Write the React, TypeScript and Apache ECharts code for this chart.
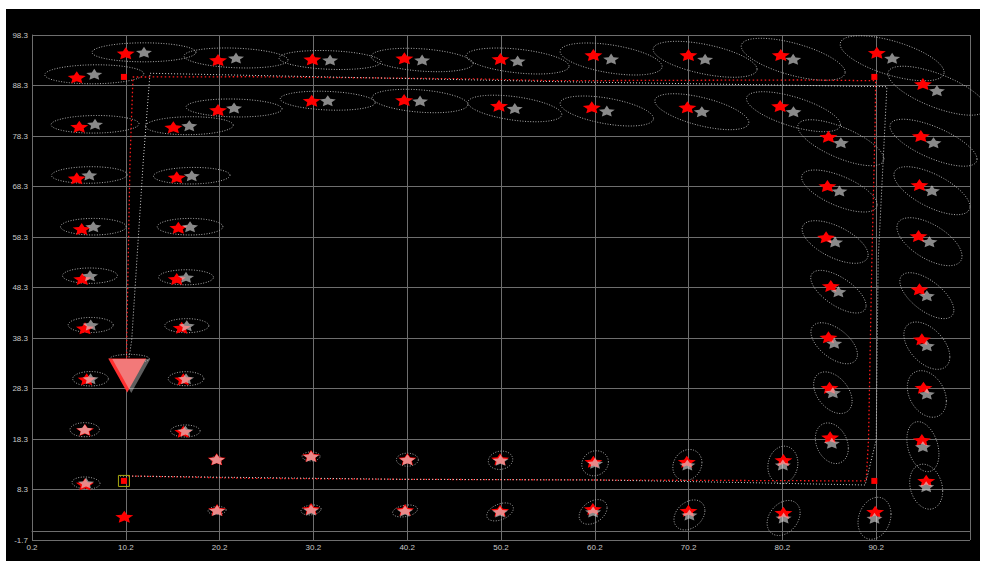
import React, { useEffect, useRef } from 'react';
import * as echarts from 'echarts';

// True landmark positions
const trueX = [10.19, 20.03, 30.09, 39.9, 50.14, 60.05, 70.18, 80.03, 90.27, 95.18, 94.96, 94.81, 94.71, 94.81, 95.07, 95.24, 95.07, 95.53, 90.09, 80.31, 70.18, 59.99, 50.1, 39.97, 29.95, 19.93, 10.04, 5.85, 5.85, 6.03, 5.85, 5.56, 5.5, 4.97, 5.24, 4.97, 20.03, 30.02, 39.87, 49.99, 59.88, 70.07, 79.96, 85.11, 85.0, 84.86, 85.36, 85.11, 85.22, 85.29, 80.31, 70.01, 60.05, 50.1, 40.22, 29.95, 19.89, 16.33, 16.33, 16.16, 15.63, 15.8, 15.63, 15.27];
const trueY = [94.68, 93.35, 93.49, 93.69, 93.55, 94.34, 94.34, 94.34, 94.8, 88.6, 78.3, 68.6, 58.5, 47.95, 38.05, 28.46, 18.11, 10.05, 3.91, 3.71, 4.11, 4.45, 4.11, 4.25, 4.45, 4.25, 2.92, 9.34, 20.09, 30.13, 40.23, 49.99, 59.89, 69.93, 80.14, 89.92, 83.45, 85.29, 85.43, 84.3, 83.98, 83.98, 84.24, 78.16, 68.4, 58.24, 48.6, 38.44, 28.46, 18.64, 14.15, 13.81, 13.81, 14.29, 14.29, 14.94, 14.29, 19.75, 30.13, 40.34, 49.99, 60.14, 70.12, 80.02];

// Estimated landmark positions (null = not yet observed)
const estX = [12.14, 21.95, 31.98, 41.79, 51.97, 61.94, 71.96, 81.35, 91.9, 96.67, 96.31, 96.14, 95.88, 95.6, 95.6, 95.6, 95.18, 95.53, 90.02, 80.33, 70.29, 60.02, 50.1, 39.97, 29.95, 19.93, null, 5.96, 5.82, 6.44, 6.46, 6.38, 6.74, 6.31, 6.92, 6.84, 21.74, 31.73, 41.57, 51.67, 61.48, 71.61, 81.38, 86.43, 86.28, 85.82, 86.17, 85.72, 85.58, 85.47, 80.25, 70.07, 60.23, 50.15, 40.22, 29.95, 19.89, 16.55, 16.62, 16.7, 16.62, 17.05, 17.23, 16.97];
const estY = [94.87, 93.75, 93.35, 93.35, 93.15, 93.55, 93.49, 93.49, 93.69, 87.27, 76.97, 67.47, 57.37, 46.68, 36.78, 27.22, 16.78, 8.86, 2.6, 2.66, 3.26, 3.86, 3.86, 4.05, 4.25, 4.15, null, 9.59, 20.14, 30.23, 40.88, 50.64, 60.34, 70.58, 80.62, 90.52, 83.85, 85.29, 85.23, 83.75, 83.25, 83.11, 83.11, 76.97, 67.41, 57.31, 47.47, 37.26, 27.47, 17.46, 13.16, 13.16, 13.49, 14.09, 14.2, 14.85, 14.25, 19.89, 30.24, 40.74, 50.32, 60.34, 70.44, 80.34];

// Uncertainty (std dev x, std dev y, correlation)
const sdX = [5.54, 5.54, 5.44, 5.44, 5.49, 5.44, 5.54, 5.54, 5.54, 5.22, 4.64, 4.05, 3.47, 2.88, 2.45, 2.08, 1.71, 1.76, 1.76, 1.76, 1.65, 1.49, 1.42, 1.33, 1.07, 0.96, null, 1.49, 1.57, 1.9, 2.4, 2.93, 3.5, 4.03, 4.69, 5.28, 5.12, 5.06, 5.1, 5.01, 4.98, 5.01, 5.01, 4.59, 4.03, 3.52, 2.95, 2.48, 2.05, 1.76, 1.6, 1.55, 1.42, 1.3, 1.17, 0.96, 0.64, 1.57, 1.9, 2.35, 2.93, 3.5, 4.08, 4.69];
const sdY = [1.88, 1.98, 1.88, 2.32, 2.57, 3.17, 3.56, 4.16, 4.46, 4.85, 4.65, 4.75, 4.75, 4.55, 4.69, 4.61, 4.95, 4.46, 4.16, 3.47, 2.97, 2.44, 1.78, 1.19, 0.99, 0.79, null, 1.19, 1.39, 1.43, 1.49, 1.52, 1.64, 1.64, 1.74, 1.88, 1.78, 1.88, 2.32, 2.63, 2.97, 3.56, 3.96, 4.55, 4.16, 4.22, 4.22, 4.06, 4.12, 4.02, 3.72, 3.07, 2.48, 1.82, 1.29, 0.89, 0.59, 1.19, 1.39, 1.39, 1.49, 1.64, 1.64, 1.78];
const rho = [0, -0.2, -0.2, -0.3, -0.4, -0.47, -0.55, -0.62, -0.62, -0.69, -0.7, -0.66, -0.6, -0.63, -0.47, -0.3, -0.3, -0.2, 0.2, 0.3, 0.3, 0.35, 0.4, 0.3, 0.2, 0.1, null, -0.1, 0, 0, 0, 0, 0, 0.05, 0.05, 0.05, -0.1, -0.2, -0.3, -0.45, -0.5, -0.6, -0.65, -0.7, -0.65, -0.6, -0.65, -0.55, -0.4, -0.25, 0.1, 0.15, 0.1, 0.1, 0, 0, 0, 0, 0, 0, 0, 0, 0.05, 0.05];

// True trajectory
const truePathX = [10.44, 23.45, 39.44, 82.09, 89.13, 89.38, 89.74, 90.09, 90.14, 82.09, 55.43, 47.97, 23.45, 10.97, 10.65, 10.3, 10.3];
const truePathY = [10.98, 10.52, 10.32, 10.04, 9.99, 18.11, 53.75, 81.47, 89.25, 89.39, 89.25, 89.59, 90.04, 89.98, 73.55, 37.91, 34.34];

// Estimated trajectory
const estPathX = [9.58, 39.44, 60.77, 76.76, 89.02, 90.2, 90.41, 91.16, 91.34, 56.5, 12.78, 12.07, 10.83, 10.54];
const estPathY = [10.98, 10.32, 10.18, 9.65, 9.19, 18.11, 53.75, 81.47, 88.06, 89.05, 90.72, 73.55, 37.91, 34.34];

// Waypoints
const wpX = [10, 90, 90, 10];
const wpY = [90, 90, 10, 10];
const startPoint = [10, 10];

// Robot pose (true / estimated) and estimated pose uncertainty
const robotTrue = [10.35, 30.88];
const robotEst = [10.78, 30.8];
const robotEll = [10.6, 34.2, 2.1, 0.85, 0];

const STAR = 'path://M0,-10L2.9,-4L9.511,-3.09L4.7,1.5L5.878,8.09L0,4.9L-5.878,8.09L-4.7,1.5L-9.511,-3.09L-2.9,-4Z';

export default function App() {
  const ref = useRef<HTMLDivElement>(null);
  useEffect(() => {
    document.body.style.margin = '0';
    const chart = echarts.init(ref.current as HTMLDivElement, null, { renderer: 'svg' });

    const ellData: number[][] = [];
    for (let i = 0; i < estX.length; i++) {
      if (estX[i] == null || sdX[i] == null) continue;
      ellData.push([estX[i] as number, estY[i] as number, sdX[i] as number, sdY[i] as number, rho[i] as number]);
    }
    ellData.push(robotEll);

    const trueData = trueX.map((x, i) => [x, trueY[i]]);
    const estData: number[][] = [];
    estX.forEach((x, i) => { if (x != null) estData.push([x as number, estY[i] as number]); });

    const axisLabel = { color: '#c8c8c8', fontSize: 8, fontFamily: 'Liberation Sans', formatter: (v: number) => v.toFixed(1) };
    const gridLine = { show: true, lineStyle: { color: '#6e6e6e', width: 1 } };

    const option: any = {
      animation: false,
      backgroundColor: '#000',
      grid: { left: 26, top: 26, right: 10, bottom: 21 },
      xAxis: {
        type: 'value', min: 0.2, max: 100.2, interval: 10,
        axisLine: { show: true, lineStyle: { color: '#6e6e6e' } },
        axisTick: { show: false },
        splitLine: gridLine,
        axisLabel: { ...axisLabel, margin: 3, showMaxLabel: false },
      },
      yAxis: {
        type: 'value', min: -1.7, max: 98.3, interval: 10,
        axisLine: { show: true, lineStyle: { color: '#6e6e6e' } },
        axisTick: { show: false },
        splitLine: gridLine,
        axisLabel: { ...axisLabel, margin: 4 },
      },
      series: [
        {
          type: 'custom',
          clip: false,
          silent: true,
          z: 1,
          data: ellData,
          encode: { x: 0, y: 1 },
          renderItem: (params: any, api: any) => {
            const cx = api.value(0), cy = api.value(1), sx = api.value(2), sy = api.value(3), r = api.value(4);
            const k = Math.sqrt(Math.max(0, 1 - r * r));
            const pts: number[][] = [];
            const n = 90;
            for (let i = 0; i < n; i++) {
              const t = (i / n) * Math.PI * 2;
              const x = cx + sx * Math.cos(t);
              const y = cy + sy * (r * Math.cos(t) + k * Math.sin(t));
              pts.push(api.coord([x, y]));
            }
            return {
              type: 'polygon',
              shape: { points: pts },
              style: { fill: 'none', stroke: '#b0b0b0', lineWidth: 1, lineDash: [1, 1.6] },
            };
          },
        },
        {
          type: 'line', z: 2, silent: true, symbol: 'none',
          data: truePathX.map((x, i) => [x, truePathY[i]]),
          lineStyle: { color: '#ff1a1a', width: 1.3, type: [1.5, 2.5], opacity: 1 },
        },
        {
          type: 'line', z: 2, silent: true, symbol: 'none',
          data: estPathX.map((x, i) => [x, estPathY[i]]),
          lineStyle: { color: '#d0d0d0', width: 1, type: [1, 2], opacity: 1 },
        },
        {
          type: 'scatter', z: 3, silent: true,
          symbol: STAR, symbolSize: [18, 12],
          data: trueData,
          itemStyle: { color: '#ff0000', opacity: 1 },
        },
        {
          type: 'scatter', z: 4, silent: true,
          symbol: STAR, symbolSize: [16, 11],
          data: estData,
          itemStyle: { color: '#dddddd', opacity: 0.62 },
        },
        {
          type: 'scatter', z: 5, silent: true,
          symbol: 'rect', symbolSize: 6,
          data: wpX.map((x, i) => [x, wpY[i]]),
          itemStyle: { color: '#ff0000', opacity: 1 },
        },
        {
          type: 'scatter', z: 5, silent: true,
          symbol: 'rect', symbolSize: 11,
          data: [startPoint],
          itemStyle: { color: 'rgba(0,0,0,0)', borderColor: '#a8a810', borderWidth: 1, opacity: 1 },
        },
        {
          type: 'scatter', z: 6, silent: true,
          symbol: 'triangle', symbolRotate: 180, symbolSize: [38, 34],
          data: [robotTrue],
          itemStyle: { color: '#ff3030', opacity: 1 },
        },
        {
          type: 'scatter', z: 7, silent: true,
          symbol: 'triangle', symbolRotate: 180, symbolSize: [38, 34],
          data: [robotEst],
          itemStyle: { color: '#e0e0e0', opacity: 0.42 },
        },
      ],
    };
    chart.setOption(option);
    return () => chart.dispose();
  }, []);
  return <div ref={ref} style={{ position: 'absolute', left: 6, top: 9, width: 974, height: 552, background: '#000' }} />;
}
